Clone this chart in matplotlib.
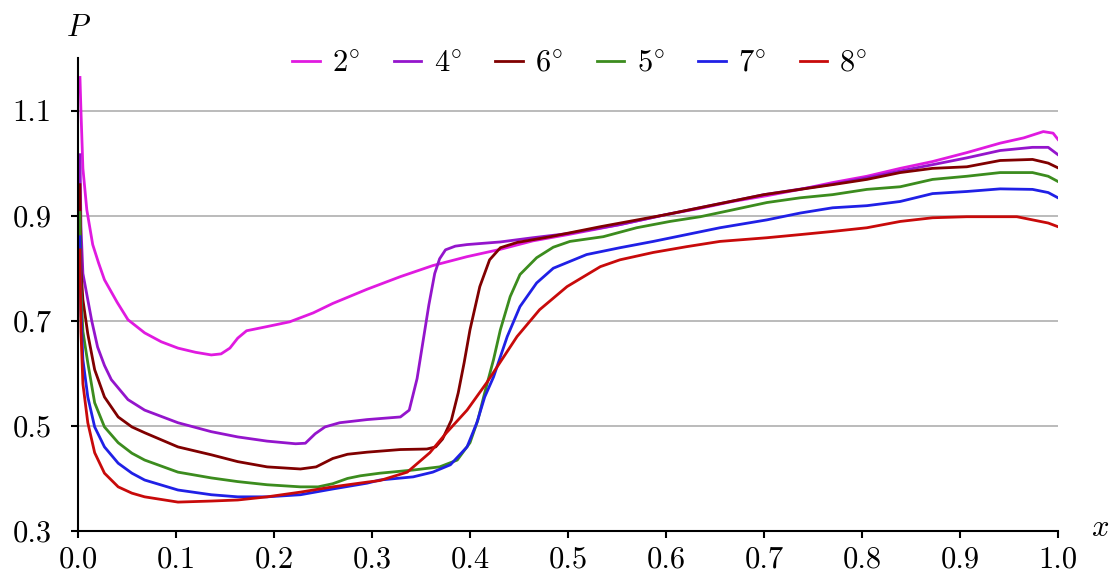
import matplotlib
matplotlib.use('Agg')
import matplotlib.pyplot as plt
import numpy as np

plt.rcParams['font.family'] = 'serif'
plt.rcParams['font.serif'] = ['cmr10']
plt.rcParams['mathtext.fontset'] = 'cm'
plt.rcParams['axes.unicode_minus'] = False
plt.rcParams['axes.formatter.use_mathtext'] = True

# pressure curves P(x) for each angle
x_2 = [0.002, 0.003, 0.005, 0.009, 0.015, 0.021, 0.027, 0.04, 0.051, 0.068, 0.085, 0.102, 0.12, 0.136, 0.146,
       0.155, 0.163, 0.172, 0.193, 0.216, 0.24, 0.26, 0.295, 0.329, 0.362, 0.397, 0.431, 0.464, 0.5,
       0.553, 0.6, 0.635, 0.668, 0.703, 0.737, 0.77, 0.805, 0.839, 0.872, 0.907, 0.941, 0.965, 0.985,
       0.995, 1.0]
P_2 = [1.163, 1.1, 0.99, 0.911, 0.845, 0.81, 0.778, 0.735, 0.702, 0.677, 0.66, 0.648, 0.64, 0.635, 0.637,
       0.648, 0.667, 0.681, 0.689, 0.698, 0.715, 0.733, 0.76, 0.784, 0.805, 0.822, 0.836, 0.852, 0.864,
       0.883, 0.902, 0.914, 0.927, 0.938, 0.95, 0.963, 0.975, 0.99, 1.003, 1.02, 1.038, 1.048, 1.06,
       1.057, 1.045]

x_4 = [0.002, 0.003, 0.005, 0.01, 0.014, 0.02, 0.027, 0.034, 0.051, 0.068, 0.102, 0.136, 0.163, 0.193, 0.222,
       0.232, 0.242, 0.252, 0.267, 0.295, 0.329, 0.338, 0.346, 0.352, 0.358, 0.364, 0.369, 0.375, 0.385,
       0.397, 0.431, 0.464, 0.5, 0.553, 0.6, 0.7, 0.77, 0.805, 0.839, 0.872, 0.907, 0.941, 0.974, 0.99, 1.0]
P_4 = [1.016, 0.88, 0.79, 0.74, 0.7, 0.65, 0.615, 0.588, 0.55, 0.53, 0.506, 0.489, 0.479, 0.471, 0.466,
       0.467, 0.485, 0.498, 0.506, 0.512, 0.517, 0.53, 0.59, 0.66, 0.73, 0.79, 0.818, 0.835, 0.842,
       0.845, 0.85, 0.858, 0.866, 0.883, 0.902, 0.94, 0.96, 0.972, 0.985, 0.997, 1.01, 1.024, 1.03, 1.03, 1.016]

x_6 = [0.002, 0.003, 0.005, 0.01, 0.017, 0.027, 0.041, 0.055, 0.068, 0.102, 0.136, 0.163, 0.193, 0.227, 0.243,
       0.26, 0.275, 0.295, 0.329, 0.356, 0.365, 0.372, 0.381, 0.388, 0.394, 0.4, 0.41, 0.42, 0.431, 0.448,
       0.482, 0.533, 0.6, 0.7, 0.77, 0.805, 0.839, 0.872, 0.907, 0.941, 0.974, 0.99, 1.0]
P_6 = [0.959, 0.8, 0.74, 0.675, 0.607, 0.555, 0.517, 0.498, 0.487, 0.46, 0.445, 0.432, 0.422, 0.418, 0.422,
       0.438, 0.446, 0.45, 0.455, 0.456, 0.46, 0.475, 0.511, 0.563, 0.62, 0.683, 0.765, 0.816, 0.839, 0.849,
       0.86, 0.879, 0.902, 0.94, 0.959, 0.969, 0.982, 0.99, 0.993, 1.005, 1.007, 1.0, 0.991]

x_5 = [0.002, 0.003, 0.005, 0.01, 0.017, 0.027, 0.041, 0.055, 0.068, 0.102, 0.136, 0.163, 0.193, 0.227, 0.245,
       0.26, 0.275, 0.288, 0.308, 0.342, 0.369, 0.387, 0.4, 0.408, 0.415, 0.424, 0.431, 0.441, 0.451, 0.468,
       0.485, 0.502, 0.536, 0.57, 0.604, 0.635, 0.668, 0.703, 0.737, 0.77, 0.805, 0.839, 0.872, 0.907,
       0.941, 0.974, 0.99, 1.0]
P_5 = [0.906, 0.76, 0.68, 0.62, 0.544, 0.498, 0.468, 0.448, 0.435, 0.412, 0.401, 0.394, 0.388, 0.384, 0.384,
       0.39, 0.4, 0.405, 0.41, 0.416, 0.422, 0.435, 0.468, 0.511, 0.563, 0.626, 0.683, 0.746, 0.788, 0.82,
       0.84, 0.851, 0.86, 0.877, 0.889, 0.898, 0.911, 0.925, 0.934, 0.94, 0.95, 0.955, 0.969, 0.975,
       0.982, 0.982, 0.975, 0.965]

x_7 = [0.002, 0.003, 0.005, 0.01, 0.017, 0.027, 0.041, 0.055, 0.068, 0.102, 0.136, 0.163, 0.193, 0.227, 0.26,
       0.295, 0.308, 0.342, 0.362, 0.38, 0.397, 0.407, 0.415, 0.424, 0.438, 0.451, 0.468, 0.485, 0.519,
       0.553, 0.587, 0.621, 0.655, 0.703, 0.737, 0.77, 0.805, 0.839, 0.872, 0.907, 0.941, 0.974, 0.99, 1.0]
P_7 = [0.86, 0.72, 0.626, 0.555, 0.498, 0.46, 0.429, 0.41, 0.397, 0.378, 0.369, 0.365, 0.365, 0.369, 0.38,
       0.391, 0.397, 0.403, 0.412, 0.426, 0.46, 0.506, 0.555, 0.593, 0.67, 0.727, 0.772, 0.8, 0.826,
       0.839, 0.851, 0.864, 0.877, 0.892, 0.905, 0.915, 0.919, 0.927, 0.942, 0.946, 0.951, 0.95, 0.944, 0.934]

x_8 = [0.002, 0.003, 0.005, 0.01, 0.017, 0.027, 0.041, 0.055, 0.068, 0.102, 0.136, 0.163, 0.193, 0.227, 0.26,
       0.295, 0.308, 0.336, 0.359, 0.376, 0.397, 0.417, 0.448, 0.471, 0.499, 0.533, 0.553, 0.587, 0.621,
       0.655, 0.703, 0.737, 0.77, 0.805, 0.839, 0.872, 0.907, 0.958, 0.974, 0.99, 1.0]
P_8 = [0.835, 0.68, 0.58, 0.506, 0.449, 0.41, 0.384, 0.372, 0.365, 0.355, 0.357, 0.359, 0.365, 0.374, 0.384,
       0.393, 0.396, 0.412, 0.449, 0.487, 0.53, 0.582, 0.67, 0.721, 0.765, 0.803, 0.816, 0.83, 0.841,
       0.851, 0.858, 0.864, 0.87, 0.877, 0.889, 0.896, 0.898, 0.898, 0.892, 0.886, 0.879]

labels = [r'$2^{\circ}$', r'$4^{\circ}$', r'$6^{\circ}$', r'$5^{\circ}$', r'$7^{\circ}$', r'$8^{\circ}$']
colors = ['#E01AE0', '#9415CC', '#800000', '#3C8C1E', '#2020E6', '#C80A0A']
series = [(x_2, P_2), (x_4, P_4), (x_6, P_6), (x_5, P_5), (x_7, P_7), (x_8, P_8)]

fig = plt.figure(figsize=(11.09, 5.73), dpi=100)
ax = fig.add_axes([78 / 1109, 1 - 531 / 573, 980 / 1109, 473 / 573])

for (xs, ps), lab, c in zip(series, labels, colors):
    ax.plot(xs, ps, color=c, lw=2, label=lab)

ax.set_xlim(0, 1.0)
ax.set_ylim(0.3, 1.2)
ax.set_xticks(np.arange(0, 1.01, 0.1))
ax.set_yticks([0.3, 0.5, 0.7, 0.9, 1.1])
ax.xaxis.set_major_formatter(matplotlib.ticker.FormatStrFormatter('%.1f'))
ax.yaxis.set_major_formatter(matplotlib.ticker.FormatStrFormatter('%.1f'))
ax.tick_params(axis='both', direction='out', length=5, width=1.5, labelsize=22)
ax.tick_params(axis='y', pad=14)
ax.tick_params(axis='x', pad=6)
ax.grid(axis='y', color='#A8A8A8', lw=1.1)
ax.set_axisbelow(True)
for s in ['top', 'right']:
    ax.spines[s].set_visible(False)
for s in ['left', 'bottom']:
    ax.spines[s].set_linewidth(1.5)

fig.text(78 / 1109, 1 - 28 / 573, r'$P$', fontsize=22, ha='center', va='center')
fig.text(1100 / 1109, 1 - 528 / 573, r'$x$', fontsize=22, ha='center', va='center')

fig.legend(loc='center', bbox_to_anchor=(580 / 1109, 1 - 64 / 573), ncol=6, frameon=False,
           fontsize=22, handlelength=0.9, handletextpad=0.4, columnspacing=1.1)

plt.savefig('out.png', dpi=100)
